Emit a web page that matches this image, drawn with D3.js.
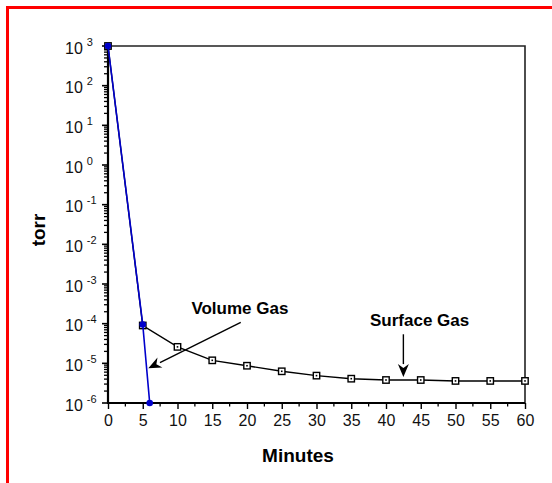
<!DOCTYPE html>
<html>
<head>
<meta charset="utf-8">
<script src="https://cdn.jsdelivr.net/npm/d3@7"></script>
<style>
  body { margin: 0; background: #fff; }
  text { font-family: "Liberation Sans", Arial, sans-serif; }
</style>
</head>
<body>
<script>
// minutes on the x axis
var minutes = [0, 5, 10, 15, 20, 25, 30, 35, 40, 45, 50, 55, 60];
// surface gas pressure (torr)
var surfaceGas = [1000, 9e-5, 2.6e-5, 1.19e-5, 8.7e-6, 6.3e-6, 4.9e-6, 4.1e-6, 3.8e-6, 3.8e-6, 3.6e-6, 3.6e-6, 3.6e-6];
// volume gas (blue)
var volumeMinutes = [0, 5, 6];
var volumeGas = [1000, 9.5e-5, 1e-6];

var xTicks = [0, 5, 10, 15, 20, 25, 30, 35, 40, 45, 50, 55, 60];
var yExponents = [3, 2, 1, 0, -1, -2, -3, -4, -5, -6];

// annotations, in data units
var labels = [
  {text: "Volume Gas", x: 12.0, y: 1.8e-4},
  {text: "Surface Gas", x: 37.7, y: 8.7e-5}
];
var arrows = [
  {x1: 19.1, y1: 1.08e-4, x2: 5.8, y2: 7.5e-6},
  {x1: 42.5, y1: 5.4e-5, x2: 42.5, y2: 4.5e-6}
];

var W = 552, H = 483;
var pL = 108, pR = 525, pT = 46, pB = 403;

var svg = d3.select("body").append("svg")
    .attr("width", W)
    .attr("height", H);

// red frame (only top and left edges show)
svg.append("rect")
    .attr("x", 7.5).attr("y", 7.5)
    .attr("width", 700).attr("height", 700)
    .attr("fill", "none")
    .attr("stroke", "#ff0000")
    .attr("stroke-width", 3);

var x = d3.scaleLinear().domain([0, 60]).range([pL, pR]);
var y = d3.scaleLog().domain([1e-6, 1e3]).range([pB, pT]);

// top and right frame lines
svg.append("path")
    .attr("d", "M" + pL + "," + pT + "H" + pR + "V" + pB)
    .attr("fill", "none")
    .attr("stroke", "#222")
    .attr("stroke-width", 1.6);

// x axis: major every 5, minor halfway
var xMinor = d3.range(2.5, 60, 5);
svg.append("g").selectAll("line.minor")
    .data(xMinor).enter().append("line")
    .attr("x1", function(d) { return x(d); })
    .attr("x2", function(d) { return x(d); })
    .attr("y1", pB).attr("y2", pB + 3.5)
    .attr("stroke", "#000").attr("stroke-width", 1.3);

var xAxis = d3.axisBottom(x)
    .tickValues(xTicks)
    .tickSize(6)
    .tickPadding(6)
    .tickFormat(d3.format("d"));
var gx = svg.append("g")
    .attr("transform", "translate(0," + pB + ")")
    .call(xAxis);
gx.select(".domain").attr("stroke-width", 2).attr("d", "M" + pL + ",0H" + pR);
gx.selectAll(".tick line").attr("stroke-width", 1.4);
gx.selectAll(".tick text")
    .attr("font-size", 16)
    .attr("font-family", "Liberation Sans, Arial, sans-serif")
    .attr("fill", "#111");

// y axis: log ticks, minor 2..9
var yMinor = [];
for (var e = -6; e < 3; e++) {
  for (var m = 2; m <= 9; m++) yMinor.push(m * Math.pow(10, e));
}
var gy = svg.append("g");
gy.selectAll("line.minor")
    .data(yMinor).enter().append("line")
    .attr("x1", pL - 4).attr("x2", pL)
    .attr("y1", function(d) { return y(d); })
    .attr("y2", function(d) { return y(d); })
    .attr("stroke", "#000").attr("stroke-width", 1.3);
gy.selectAll("line.major")
    .data(yExponents).enter().append("line")
    .attr("x1", pL - 6).attr("x2", pL)
    .attr("y1", function(d) { return y(Math.pow(10, d)); })
    .attr("y2", function(d) { return y(Math.pow(10, d)); })
    .attr("stroke", "#000").attr("stroke-width", 1.6);
gy.append("line")
    .attr("x1", pL).attr("x2", pL)
    .attr("y1", pT).attr("y2", pB + 1)
    .attr("stroke", "#000").attr("stroke-width", 2.2);

var ylab = gy.selectAll("text.ylab")
    .data(yExponents).enter().append("text")
    .attr("x", 65)
    .attr("y", function(d) { return y(Math.pow(10, d)) + 7.5; })
    .attr("font-size", 16)
    .attr("fill", "#111");
ylab.append("tspan").text("10");
ylab.append("tspan")
    .attr("dx", 4)
    .attr("dy", -8)
    .attr("font-size", 11)
    .text(function(d) { return d; });

// surface gas line and squares
var line = d3.line()
    .x(function(d) { return x(d[0]); })
    .y(function(d) { return y(d[1]); });

var surf = d3.zip(minutes, surfaceGas);
svg.append("path")
    .attr("d", line(surf))
    .attr("fill", "none")
    .attr("stroke", "#000")
    .attr("stroke-width", 1.4);

svg.selectAll("rect.sq")
    .data(surf).enter().append("rect")
    .attr("x", function(d) { return x(d[0]) - 3.2; })
    .attr("y", function(d) { return y(d[1]) - 3.2; })
    .attr("width", 6.4).attr("height", 6.4)
    .attr("fill", "#fff")
    .attr("stroke", "#000")
    .attr("stroke-width", 1.4);
svg.selectAll("rect.dot")
    .data(surf).enter().append("rect")
    .attr("x", function(d) { return x(d[0]) - 0.8; })
    .attr("y", function(d) { return y(d[1]) - 0.8; })
    .attr("width", 1.6).attr("height", 1.6)
    .attr("fill", "#000");

// volume gas (blue)
var vol = d3.zip(volumeMinutes, volumeGas);
svg.append("path")
    .attr("d", line(vol))
    .attr("fill", "none")
    .attr("stroke", "#0000cc")
    .attr("stroke-width", 1.6);
svg.selectAll("circle.vol")
    .data(vol).enter().append("circle")
    .attr("cx", function(d) { return x(d[0]); })
    .attr("cy", function(d) { return y(d[1]); })
    .attr("r", 3.3)
    .attr("fill", "#0000cc");

// annotations
svg.selectAll("text.note")
    .data(labels).enter().append("text")
    .attr("x", function(d) { return x(d.x); })
    .attr("y", function(d) { return y(d.y); })
    .attr("font-size", 17)
    .attr("font-weight", "bold")
    .attr("fill", "#000")
    .text(function(d) { return d.text; });

arrows.forEach(function(a) {
  var x1 = x(a.x1), y1 = y(a.y1), x2 = x(a.x2), y2 = y(a.y2);
  var ang = Math.atan2(y2 - y1, x2 - x1);
  var len = 13, hw = 5.5;
  var bx = x2 - len * Math.cos(ang), by = y2 - len * Math.sin(ang);
  svg.append("line")
      .attr("x1", x1).attr("y1", y1)
      .attr("x2", bx).attr("y2", by)
      .attr("stroke", "#000").attr("stroke-width", 1.4);
  var px = -Math.sin(ang), py = Math.cos(ang);
  var pts = [[x2, y2], [bx + hw * px, by + hw * py], [x2 - 9 * Math.cos(ang), y2 - 9 * Math.sin(ang)], [bx - hw * px, by - hw * py]];
  svg.append("path")
      .attr("d", "M" + pts.join("L") + "Z")
      .attr("fill", "#000");
});

// axis titles
svg.append("text")
    .attr("x", 298).attr("y", 462)
    .attr("text-anchor", "middle")
    .attr("font-size", 19)
    .attr("font-weight", "bold")
    .text("Minutes");

svg.append("text")
    .attr("transform", "translate(45,230) rotate(-90)")
    .attr("text-anchor", "middle")
    .attr("font-size", 19)
    .attr("font-weight", "bold")
    .text("torr");
</script>
</body>
</html>
